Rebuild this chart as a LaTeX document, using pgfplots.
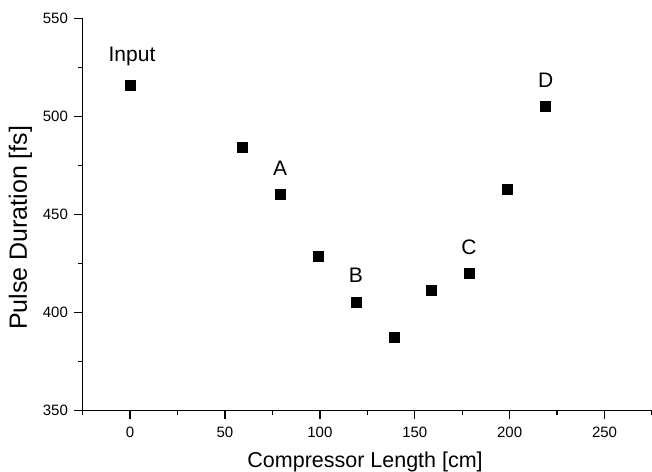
\documentclass[border=0pt]{standalone}
\usepackage{fontspec}
\setmainfont{Liberation Sans}
\usepackage{pgfplots}
\pgfplotsset{compat=1.18}
\usetikzlibrary{calc}
\begin{document}
\begin{tikzpicture}
\begin{axis}[
  scale only axis, width=284.8pt, height=196.2pt,
  xmin=-25, xmax=275, ymin=350, ymax=550,
  axis lines=left, axis line style={-, line width=0.7pt},
  xtick={0,50,...,250}, ytick={350,400,...,550},
  minor xtick={-25,25,75,125,175,225,275},
  minor ytick={375,425,475,525},
  tick align=outside, major tick length=4.35pt, minor tick length=2.15pt,
  every tick/.style={black, line width=0.7pt},
  /pgf/number format/assume math mode=true,
  tick label style={font=\fontsize{7.5}{9}\selectfont, inner sep=0pt},
  yticklabel style={xshift=-2.85pt},
  xticklabel style={yshift=-3.5pt},
  xlabel={Compressor Length [cm]},
  ylabel={Pulse Duration [fs]},
  xlabel style={at={(rel axis cs:0.4961,-0.1453)}, anchor=base, inner sep=0pt, font=\fontsize{10.75}{12}\selectfont},
  ylabel style={at={(rel axis cs:-0.1092,0.466)}, anchor=center, inner sep=0pt, font=\fontsize{12.5}{14}\selectfont},
  clip=false,
]
\addplot[only marks, mark=square*, mark size=2.5pt, black] coordinates {
  (0,516) (59,484) (79,460) (99,428.5) (119,405) (139,387.5)
  (159,411.5) (179,420) (199,462.5) (219,505)
};
\node[font=\fontsize{10.5}{12}\selectfont, inner sep=0pt] at (axis cs:1,530.4) {Input};
\node[font=\fontsize{10.5}{12}\selectfont, inner sep=0pt] at (axis cs:79,473.5) {A};
\node[font=\fontsize{10.5}{12}\selectfont, inner sep=0pt] at (axis cs:119,418.8) {B};
\node[font=\fontsize{10.5}{12}\selectfont, inner sep=0pt] at (axis cs:178.5,433.3) {C};
\node[font=\fontsize{10.5}{12}\selectfont, inner sep=0pt] at (axis cs:219,518.2) {D};
\coordinate (sw) at (rel axis cs:0,0);
\coordinate (ne) at (rel axis cs:1,1);
\end{axis}
\pgfresetboundingbox
\path ($(sw)+(-41.35pt,-30.65pt)$) rectangle ($(ne)+(0pt,9.15pt)$);
\end{tikzpicture}
\end{document}
